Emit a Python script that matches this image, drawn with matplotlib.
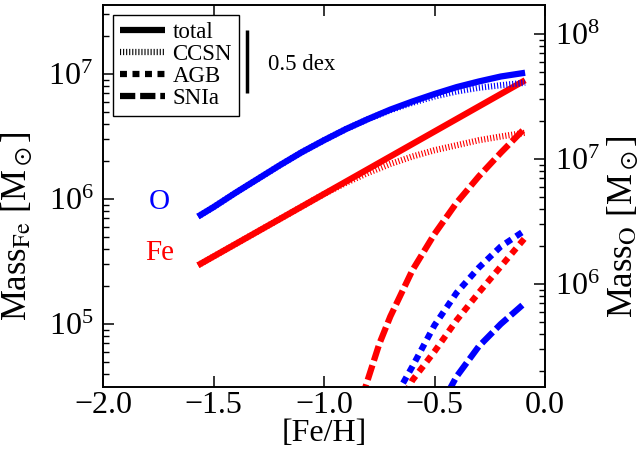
import numpy as np
import matplotlib
matplotlib.use("Agg")
from matplotlib import pyplot as plt

plt.rcParams['font.family'] = 'serif'
plt.rcParams['font.serif'] = ['Liberation Serif', 'DejaVu Serif']
plt.rcParams['mathtext.fontset'] = 'stix'
plt.rcParams['lines.scale_dashes'] = False
plt.rcParams['axes.linewidth'] = 1.2

# [Fe/H] grid for the total and CCSN curves
feh = [-1.57, -1.5, -1.4, -1.3, -1.2, -1.1, -1.0, -0.9, -0.8, -0.7,
       -0.6, -0.5, -0.4, -0.3, -0.2, -0.09]
# log10 masses
fe_total = [5.47, 5.54, 5.64, 5.74, 5.84, 5.94, 6.04, 6.14, 6.24, 6.34,
            6.44, 6.54, 6.64, 6.74, 6.84, 6.95]
fe_ccsn = [5.47, 5.54, 5.64, 5.74, 5.84, 5.94, 6.04, 6.13, 6.21, 6.28,
           6.34, 6.39, 6.43, 6.47, 6.50, 6.53]
o_total = [6.54, 6.615, 6.73, 6.84, 6.95, 7.055, 7.15, 7.24, 7.32, 7.395,
           7.46, 7.52, 7.575, 7.62, 7.66, 7.69]
o_ccsn = [6.54, 6.615, 6.73, 6.84, 6.95, 7.055, 7.15, 7.24, 7.32, 7.39,
          7.45, 7.50, 7.54, 7.57, 7.59, 7.61]

feh_fe_snia = [-0.83, -0.75, -0.7, -0.6, -0.5, -0.4, -0.3, -0.2, -0.1, -0.09]
fe_snia = [4.40, 4.84, 5.06, 5.43, 5.72, 5.97, 6.18, 6.37, 6.55, 6.57]
feh_fe_agb = [-0.63, -0.6, -0.5, -0.4, -0.3, -0.2, -0.09]
fe_agb = [4.45, 4.55, 4.78, 5.03, 5.25, 5.46, 5.69]
feh_o_agb = [-0.67, -0.6, -0.5, -0.4, -0.3, -0.2, -0.09]
o_agb = [5.12, 5.34, 5.67, 5.93, 6.13, 6.30, 6.43]
feh_o_snia = [-0.44, -0.4, -0.3, -0.2, -0.09]
o_snia = [5.13, 5.26, 5.50, 5.68, 5.85]

fe_ylim = (10**4.496, 10**7.552)
o_ylim = (10**5.176, 10**8.232)

lw = 4.5
styles = {'total': dict(ls='-', solid_capstyle='butt'),
          'CCSN': dict(ls=(0, (0.8, 1.4)), dash_capstyle='butt'),
          'AGB': dict(ls=(0, (5.0, 4.0)), dash_capstyle='butt'),
          'SNIa': dict(ls=(0, (11.0, 3.5)), dash_capstyle='butt')}

fig = plt.figure(figsize=(6.42, 4.5), dpi=100)
ax = fig.add_axes([103/642, 1-387/450, 442/642, 382/450])
ax2 = ax.twinx()

def draw(a, x, y, kind, color, z):
    a.plot(x, 10**np.array(y), color=color, lw=lw, zorder=z, **styles[kind])

# Fe on the left axis
draw(ax, feh, fe_ccsn, 'CCSN', 'red', 2)
draw(ax, feh, fe_total, 'total', 'red', 3)
draw(ax, feh_fe_agb, fe_agb, 'AGB', 'red', 2)
draw(ax, feh_fe_snia, fe_snia, 'SNIa', 'red', 2)
# O on the right axis
draw(ax2, feh, o_ccsn, 'CCSN', 'blue', 2)
draw(ax2, feh, o_total, 'total', 'blue', 3)
draw(ax2, feh_o_agb, o_agb, 'AGB', 'blue', 2)
draw(ax2, feh_o_snia, o_snia, 'SNIa', 'blue', 2)

ax.set_yscale('log')
ax2.set_yscale('log')
ax.set_xlim(-2.0, 0.0)
ax.set_ylim(*fe_ylim)
ax2.set_ylim(*o_ylim)
ax.set_xticks([-2.0, -1.5, -1.0, -0.5, 0.0])
ax.set_xticklabels(['\u22122.0', '\u22121.5', '\u22121.0', '\u22120.5', '0.0'])

for a in (ax, ax2):
    a.tick_params(which='major', direction='in', length=8, width=1.1,
                  labelsize=23, pad=7)
    a.tick_params(which='minor', direction='in', length=4.5, width=1.0)
ax.tick_params(axis='x', top=True, pad=3)
ax.tick_params(axis='y', right=False, which='both')

ax.set_xlabel('[Fe/H]', fontsize=23, labelpad=-1)
ax.set_ylabel(r'Mass$_{\rm Fe}$ [M$_\odot$]', fontsize=25)
ax2.set_ylabel(r'Mass$_{\rm O}$ [M$_\odot$]', fontsize=25)
ax.yaxis.set_label_coords(-0.154, 0.42)
ax2.yaxis.set_label_coords(1.136, 0.42)

# labels for the two elements
ax.text(-1.745, 10**5.976, 'O', color='blue', fontsize=21, ha='center', va='center')
ax.text(-1.745, 10**5.568, 'Fe', color='red', fontsize=21, ha='center', va='center')

# 0.5 dex scale bar
ax.plot([-1.348, -1.348], [10**6.85, 10**7.35], color='k', lw=2.5,
        solid_capstyle='butt')
ax.text(-1.253, 10**7.072, '0.5 dex', fontsize=16.5, ha='left', va='center')

handles = [plt.Line2D([], [], color='k', lw=lw, **styles[k]) for k in styles]
leg = ax.legend(handles, list(styles.keys()), loc='upper left',
                bbox_to_anchor=(10/442, 1-10/382), borderaxespad=0,
                fontsize=16.5, labelspacing=0.05, handlelength=1.95,
                handletextpad=0.35, borderpad=0.3, fancybox=False,
                framealpha=1, edgecolor='k')
leg.get_frame().set_linewidth(1.0)

fig.savefig('out.png', dpi=100)
